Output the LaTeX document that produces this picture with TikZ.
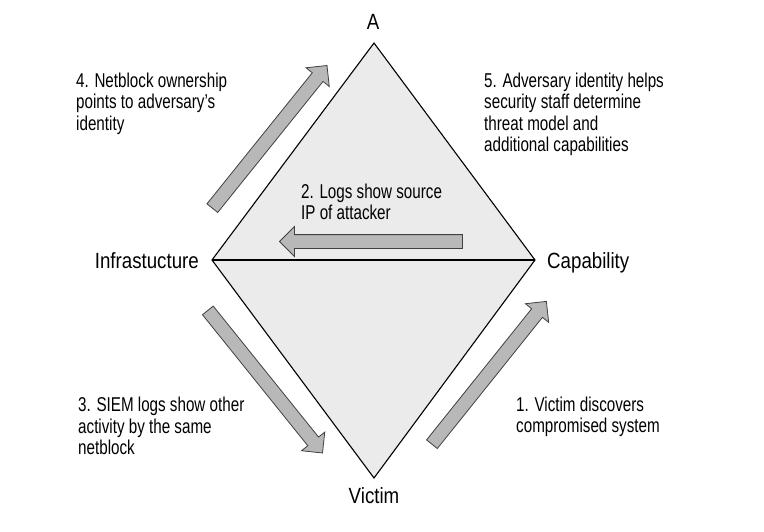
\documentclass[tikz,border=0pt]{standalone}
\usepackage{fontspec}
\setmainfont{Liberation Sans}[FakeStretch=0.76]
\newfontfamily\vlabelfont{Liberation Sans}[FakeStretch=0.85]
\usetikzlibrary{shapes.arrows}
\definecolor{diamondfill}{HTML}{EBEBEB}
\definecolor{arrowfill}{HTML}{B8B8B8}
\definecolor{arrowline}{HTML}{404040}
\tikzset{
  blockarrow/.style={single arrow, draw=arrowline, fill=arrowfill, line width=0.8pt,
    inner sep=6.5pt, minimum height=183pt, minimum width=29pt,
    single arrow head extend=8pt},
  vertexlabel/.style={font=\vlabelfont\fontsize{22}{26}\selectfont, inner sep=0pt},
  note/.style={font=\fontsize{20}{21.5}\selectfont, align=left, inner sep=0pt, anchor=base west},
}
\begin{document}
\begin{tikzpicture}[x=1pt,y=-1pt]
\useasboundingbox (0,0) rectangle (764,531);
\coordinate (top) at (374,43);
\coordinate (left) at (212,260);
\coordinate (right) at (535,260);
\coordinate (bottom) at (374,478);
\fill[diamondfill] (top) -- (right) -- (bottom) -- (left) -- cycle;
\draw[line width=1.1pt, line join=miter] (top) -- (right) -- (bottom) -- (left) -- cycle;
\draw[line width=1.1pt] (left) -- (right);

\node[vertexlabel, anchor=base] (lA) at (373,29) {A};
\node[vertexlabel, anchor=base] (lV) at (374,503) {Victim};
\node[vertexlabel, anchor=base east] (lI) at (199,268) {Infrastucture};
\node[vertexlabel, anchor=base west] (lC) at (547,268) {Capability};

\node[blockarrow, rotate=51.2] (a4) at (267.5,139.5) {};
\node[blockarrow, rotate=180] (a2) at (374.5,241.5) {};
\node[blockarrow, rotate=-51.2] (a3) at (263,379) {};
\node[blockarrow, rotate=51.3] (a1) at (487,375.5) {};

% anchors are at the baseline of each note's last line
\node[note] (t4) at (76,130) {4. Netblock ownership\\points to adversary’s\\identity};
\node[note] (t5) at (484,151.5) {5. Adversary identity helps\\security staff determine\\threat model and\\additional capabilities};
\node[note] (t2) at (301,219.5) {2. Logs show source\\IP of attacker};
\node[note] (t3) at (78,454.5) {3. SIEM logs show other\\activity by the same\\netblock};
\node[note] (t1) at (516,432.5) {1. Victim discovers\\compromised system};
\end{tikzpicture}
\end{document}
